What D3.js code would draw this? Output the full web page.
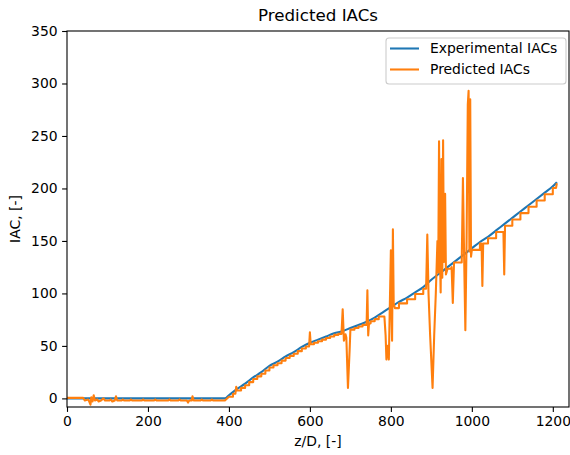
<!DOCTYPE html>
<html><head><meta charset="utf-8">
<script src="https://cdn.jsdelivr.net/npm/d3@7"></script>
<style>body{margin:0;background:#fff}svg{display:block;font-family:"DejaVu Sans",sans-serif}</style>
</head><body>
<script>
const title = "Predicted IACs";
const xLabel = "z/D, [-]";
const yLabel = "IAC, [-]";
const xTicks = [0, 200, 400, 600, 800, 1000, 1200];
const yTicks = [0, 50, 100, 150, 200, 250, 300, 350];
const seriesNames = ["Experimental IACs", "Predicted IACs"];
const seriesColors = ["#1f77b4", "#ff7f0e"];

const experimental = [[0,0],[390,0],[400,3],[420,9],[440,14],[460,20],[480,25],[500,31],[520,35],[540,40],[560,44],[580,49],[600,53],[620,56],[640,59],[660,62],[680,64],[700,67],[720,70],[740,73],[760,77],[780,82],[800,87],[820,92],[840,96],[860,101],[880,106],[900,113],[920,119],[940,125],[960,131],[980,137],[1000,143],[1020,149],[1040,154],[1060,160],[1080,166],[1100,172],[1120,178],[1140,184],[1160,190],[1180,196],[1200,202],[1210,206]];

const predicted = [[0,0.5],[40,0.5],[44,-2],[52,-1],[55,-3],[58,-6],[60,1],[63,-3],[66,3],[69,-2],[75,-1],[78,-3],[84,-2],[90,0],[94,-2],[105,-2],[108,-1],[112,-3],[118,-2],[121,2],[124,-2],[135,-2],[138,-1],[141,-2],[155,-2],[158,-1],[161,-2],[185,-2],[188,-1],[191,-2],[215,-2],[218,-1],[221,-2],[250,-2],[253,-1],[256,-2],[275,-2],[278,-1],[281,-2],[296,-2],[299,-4],[302,-2],[308,-2],[310,2],[313,-2],[330,-2],[333,-1],[336,-2],[355,-2],[358,-1],[361,-2],[390,-2],
[400,1.5],[410,1.5],[410,4.5],[416,4.5],[418,11],[420,7.5],[430,7.5],[430,10],[440,10],[440,12.5],[450,12.5],[450,15.5],[460,15.5],[460,18.5],[470,18.5],[470,21],[480,21],[480,23.5],[490,23.5],[490,26.5],[500,26.5],[500,29.5],[510,29.5],[510,31.5],[520,31.5],[520,33.5],[530,33.5],[530,36],[540,36],[540,38.5],[550,38.5],[550,40.5],[560,40.5],[560,42.5],[570,42.5],[570,45],[580,45],[580,47.5],[590,47.5],[590,49.5],[598,49.5],[600,63],[602,51.5],[610,51.5],[610,53],[620,53],[620,54.5],[630,54.5],[630,56],[640,56],[640,57.5],[650,57.5],[650,59],[660,59],[660,60.5],[670,60.5],[670,61.5],[678,61.5],[681,85],[684,55],[688,61],[690,58],[694,10],[698,45],[700,65.5],[710,65.5],[710,67],[720,67],[720,68.5],[730,68.5],[730,70],[740,70],[742,103],[744,60],[746,71.5],[750,71.5],[750,73.5],[760,73.5],[760,75.5],[770,75.5],[770,78],[784,78],[787,60],[789,37],[792,50],[795,37],[797,80],[800,141],[802,75],[803,55],[805,161],[807,90],[810,86],[820,86],[820,90.5],[840,90.5],[840,94.5],[860,94.5],[860,99.5],[880,99.5],[880,104.5],[887,104.5],[890,156],[893,100],[897,60],[903,10],[907,60],[911,100],[915,150],[917,120],[919,245],[921,140],[923,101],[925,228],[927,115],[929,246],[931,130],[934,195],[936,118],[940,123.5],[948,123.5],[950,125],[953,91],[956,129.5],[975,129.5],[978,210],[981,134],[984,65],[987,150],[990,280],[992,293],[994,140],[996,285],[998,135],[1000,141.5],[1020,141.5],[1020,147.5],[1024,147.5],[1026,107],[1028,147.5],[1040,147.5],[1040,152.5],[1060,152.5],[1060,158.5],[1078,158.5],[1080,118],[1082,164.5],[1100,164.5],[1100,170.5],[1120,170.5],[1120,176.5],[1140,176.5],[1140,182.5],[1160,182.5],[1160,188.5],[1180,188.5],[1180,194.5],[1200,194.5],[1200,200.5],[1208,200.5],[1210,205]];

const W = 570, H = 455;
const m = {left: 67, right: 569, top: 31, bottom: 407};
const svg = d3.select("body").append("svg").attr("width", W).attr("height", H);

const x = d3.scaleLinear().domain([0, 1240]).range([m.left, m.right]);
const y = d3.scaleLinear().domain([-8.2, 350]).range([m.bottom, m.top]);

svg.append("defs").append("clipPath").attr("id", "clip").append("rect")
  .attr("x", m.left).attr("y", m.top).attr("width", m.right - m.left).attr("height", m.bottom - m.top);

const line = d3.line().x(d => x(d[0])).y(d => y(d[1]));
const smooth = d3.line().x(d => x(d[0])).y(d => y(d[1])).curve(d3.curveMonotoneX);
const g = svg.append("g").attr("clip-path", "url(#clip)");
g.append("path").datum(experimental).attr("d", smooth).attr("fill", "none")
  .attr("stroke", seriesColors[0]).attr("stroke-width", 2.08).attr("stroke-linejoin", "round");
g.append("path").datum(predicted).attr("d", line).attr("fill", "none")
  .attr("stroke", seriesColors[1]).attr("stroke-width", 2.08).attr("stroke-linejoin", "round");

// axes
const xAxis = d3.axisBottom(x).tickValues(xTicks).tickSize(4.9).tickPadding(4.5).tickFormat(d3.format("d"));
const yAxis = d3.axisLeft(y).tickValues(yTicks).tickSize(4.9).tickPadding(4.5).tickFormat(d3.format("d"));
const gx = svg.append("g").attr("transform", `translate(0,${m.bottom})`).call(xAxis);
const gy = svg.append("g").attr("transform", `translate(${m.left},0)`).call(yAxis);
[gx, gy].forEach(a => {
  a.select(".domain").remove();
  a.selectAll("line").attr("stroke", "#000").attr("stroke-width", 1.1);
  a.selectAll("text").attr("fill", "#000").attr("font-size", 13.9).attr("font-family", "DejaVu Sans");
});
// spines
svg.append("rect").attr("x", m.left).attr("y", m.top).attr("width", m.right - m.left).attr("height", m.bottom - m.top)
  .attr("fill", "none").attr("stroke", "#000").attr("stroke-width", 1.1);

svg.append("text").attr("x", (m.left + m.right) / 2).attr("y", 21).attr("text-anchor", "middle")
  .attr("font-size", 16.7).attr("fill", "#000").text(title);
svg.append("text").attr("x", (m.left + m.right) / 2).attr("y", 446).attr("text-anchor", "middle")
  .attr("font-size", 13.9).attr("fill", "#000").text(xLabel);
svg.append("text").attr("transform", `translate(20,${(m.top + m.bottom) / 2}) rotate(-90)`).attr("text-anchor", "middle")
  .attr("font-size", 13.9).attr("fill", "#000").text(yLabel);

// legend
const lg = svg.append("g");
lg.append("rect").attr("x", 386).attr("y", 38).attr("width", 180).attr("height", 46).attr("rx", 3)
  .attr("fill", "#fff").attr("fill-opacity", 0.8).attr("stroke", "#ccc").attr("stroke-width", 1.1);
seriesNames.forEach((name, i) => {
  const yy = 48.5 + i * 21;
  lg.append("line").attr("x1", 390).attr("x2", 419).attr("y1", yy).attr("y2", yy)
    .attr("stroke", seriesColors[i]).attr("stroke-width", 2.08);
  lg.append("text").attr("x", 430).attr("y", yy).attr("dy", "0.35em").attr("font-size", 13.9)
    .attr("fill", "#000").text(name);
});
</script>
</body></html>
